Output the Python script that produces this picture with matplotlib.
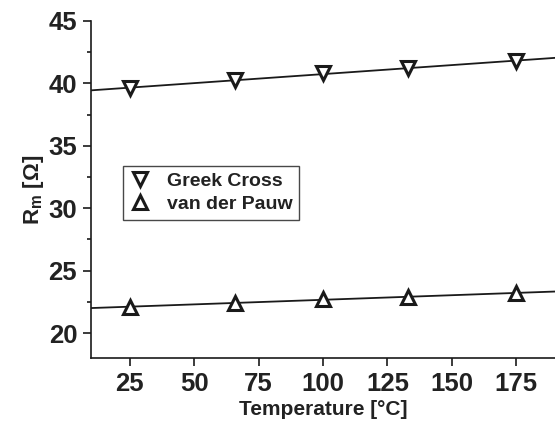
import numpy as np
import matplotlib
matplotlib.use("Agg")
import matplotlib.pyplot as plt
from matplotlib.ticker import MultipleLocator

plt.rcParams['font.family'] = ['Liberation Sans', 'DejaVu Sans']

temps = [25, 66, 100, 133, 175]
greek_cross = [39.6, 40.3, 40.8, 41.2, 41.8]
van_der_pauw = [22.1, 22.4, 22.7, 22.9, 23.2]
xticks = [25, 50, 75, 100, 125, 150, 175]
yticks = [20, 25, 30, 35, 40, 45]

fig = plt.figure(figsize=(5.55, 4.28), dpi=100)
ax = fig.add_axes([0.164, 0.1636, 0.836, 0.7874])

xfit = np.array([10, 190])
for ys in (greek_cross, van_der_pauw):
    p = np.polyfit(temps, ys, 1)
    ax.plot(xfit, np.polyval(p, xfit), color='#1a1a1a', lw=1.3, zorder=2)

ax.plot(temps, greek_cross, linestyle='none', marker='v', ms=9.5, mfc='white',
        mec='#1a1a1a', mew=2.2, label='Greek Cross', zorder=3)
ax.plot(temps, van_der_pauw, linestyle='none', marker='^', ms=9.5, mfc='white',
        mec='#1a1a1a', mew=2.2, label='van der Pauw', zorder=3)

ax.set_xlim(10, 190)
ax.set_ylim(18, 45)
ax.set_xticks(xticks)
ax.set_yticks(yticks)
ax.yaxis.set_minor_locator(MultipleLocator(2.5))
ax.spines['top'].set_visible(False)
ax.spines['right'].set_visible(False)
for s in ('left', 'bottom'):
    ax.spines[s].set_linewidth(1.2)
    ax.spines[s].set_color('#1a1a1a')
ax.tick_params(which='major', direction='out', length=5.5, width=1.2, colors='#1a1a1a',
               labelsize=18.5, pad=4.5)
ax.tick_params(which='minor', direction='out', length=3, width=1.2, colors='#1a1a1a')
for lab in ax.get_xticklabels() + ax.get_yticklabels():
    lab.set_fontweight('bold')
    lab.set_color('#222222')

ax.set_xlabel('Temperature [°C]', fontsize=15, fontweight='bold', color='#222222', labelpad=3)
ax.set_ylabel(r'R$_\mathregular{m}$ [Ω]', fontsize=16, fontweight='bold', color='#222222', labelpad=2)

leg = ax.legend(loc='upper left', bbox_to_anchor=(0.069, 0.57), frameon=True, fancybox=False,
                edgecolor='#1a1a1a', prop={'weight': 'bold', 'size': 14}, handletextpad=0.9,
                borderpad=0.35, labelspacing=0.25, handlelength=1.0, borderaxespad=0)
leg.get_frame().set_linewidth(1.0)
for t in leg.get_texts():
    t.set_color('#222222')

fig.savefig('out.png', dpi=100)
